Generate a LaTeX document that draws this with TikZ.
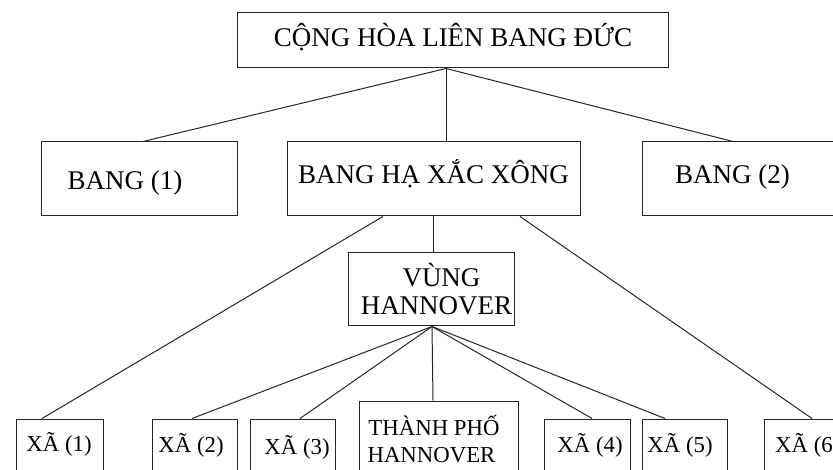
\documentclass[tikz,border=0pt]{standalone}
\usepackage{fontspec}
\setmainfont{Liberation Serif}
\tikzset{
  box/.style={draw=black!85, line width=1pt, rectangle, inner sep=0pt},
  link/.style={draw=black!85, line width=1pt},
  big/.style={anchor=base, inner sep=0pt, font=\fontsize{27}{29}\selectfont, text=black},
  small/.style={anchor=base, inner sep=0pt, font=\fontsize{22.8}{24}\selectfont, text=black},
}
\begin{document}
\begin{tikzpicture}[x=1pt, y=-1pt]
\useasboundingbox (0,0) rectangle (833,470);
\begin{scope}
\clip (0,0) rectangle (833,470);
% boxes
\node[box, minimum width=431pt, minimum height=55pt] (top) at (452.5,40.5) {};
\node[box, minimum width=196pt, minimum height=74pt] (b1) at (139,179) {};
\node[box, minimum width=293pt, minimum height=74pt] (bh) at (433.5,179) {};
\node[box, minimum width=260pt, minimum height=74pt] (b2) at (772,179) {};
\node[box, minimum width=166pt, minimum height=73pt] (vung) at (431,289.5) {};
\node[box, minimum width=87pt, minimum height=80pt] (x1) at (59.5,459) {};
\node[box, minimum width=85pt, minimum height=80pt] (x2) at (194.5,459) {};
\node[box, minimum width=85pt, minimum height=80pt] (x3) at (292.5,459) {};
\node[box, minimum width=159pt, minimum height=98pt] (tp) at (438.5,450) {};
\node[box, minimum width=86pt, minimum height=80pt] (x4) at (587,459) {};
\node[box, minimum width=85pt, minimum height=80pt] (x5) at (684.5,459) {};
\node[box, minimum width=96pt, minimum height=80pt] (x6) at (812,459) {};
% connectors
\coordinate (tj) at ([xshift=-6.5pt]top.south);
\draw[link] (tj) -- ([xshift=4pt]b1.north);
\draw[link] (tj) -- ([xshift=12.5pt]bh.north);
\draw[link] (tj) -- ([xshift=-39pt]b2.north);
\draw[link] ([xshift=-50.5pt]bh.south) -- ([xshift=-17.5pt]x1.north);
\draw[link] ([xshift=-0.5pt]bh.south) -- ([xshift=2pt]vung.north);
\draw[link] ([xshift=86.5pt]bh.south) -- (x6.north);
\coordinate (vj) at ([xshift=1pt]vung.south);
\draw[link] (vj) -- ([xshift=-2.5pt]x2.north);
\draw[link] (vj) -- ([xshift=7.5pt]x3.north);
\draw[link] (vj) -- ([xshift=-5.5pt]tp.north);
\draw[link] (vj) -- ([xshift=5pt]x4.north);
\draw[link] (vj) -- ([xshift=-19.5pt]x5.north);
% texts
\node[big] (ttop) at (453,47) {CỘNG HÒA LIÊN BANG ĐỨC};
\node[big] (tb1) at (125,190) {BANG (1)};
\node[big] (tbh) at (433.5,184) {BANG HẠ XẮC XÔNG};
\node[big] (tb2) at (732.5,184) {BANG (2)};
\node[big] (tv1) at (441.5,287) {VÙNG};
\node[big] (tv2) at (436.5,315) {HANNOVER};
\node[small] (tx1) at (59,451) {XÃ (1)};
\node[small] (tx2) at (191,452) {XÃ (2)};
\node[small] (tx3) at (297,454) {XÃ (3)};
\node[small] (ttp1) at (434,435) {THÀNH PHỐ};
\node[small] (ttp2) at (431.5,462) {HANNOVER};
\node[small] (tx4) at (590,452) {XÃ (4)};
\node[small] (tx5) at (680,452) {XÃ (5)};
\node[small, anchor=base west] (tx6) at (775,452) {XÃ (6)};
\end{scope}
\end{tikzpicture}
\end{document}
